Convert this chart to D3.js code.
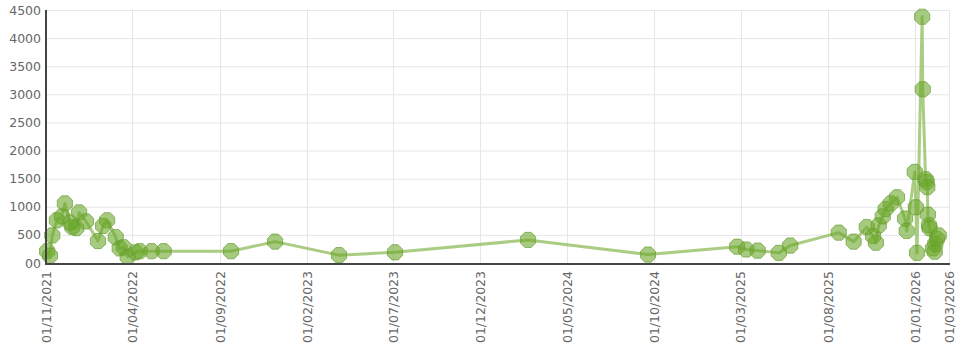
<!DOCTYPE html>
<html>
<head>
<meta charset="utf-8">
<script src="https://cdn.jsdelivr.net/npm/d3@7"></script>
<style>
  body { margin: 0; background: #fff; }
  .tick-label { font-family: "DejaVu Sans", Verdana, sans-serif; font-size: 12.5px; fill: #666; }
</style>
</head>
<body>
<div class="chart-wrapper"></div>
<script>
// dates (dd/mm/yyyy) and values
var dates = ["03/11/2021","08/11/2021","12/11/2021","20/11/2021","29/11/2021","04/12/2021","13/12/2021","17/12/2021","24/12/2021","29/12/2021",
  "10/01/2022","31/01/2022","09/02/2022","16/02/2022","03/03/2022","10/03/2022","17/03/2022","24/03/2022","07/04/2022","14/04/2022",
  "05/05/2022","26/05/2022","21/09/2022","07/12/2022","29/03/2023","05/07/2023","23/02/2024","20/09/2024",
  "23/02/2025","11/03/2025","31/03/2025","07/05/2025","27/05/2025","20/08/2025","15/09/2025","08/10/2025","19/10/2025","24/10/2025",
  "29/10/2025","05/11/2025","10/11/2025","19/11/2025","30/11/2025","14/12/2025","17/12/2025","31/12/2025","02/01/2026","04/01/2026",
  "13/01/2026","14/01/2026","19/01/2026","21/01/2026","22/01/2026","23/01/2026","25/01/2026","26/01/2026","01/02/2026","04/02/2026",
  "05/02/2026","08/02/2026","11/02/2026"];
var values = [210,130,490,760,830,1060,720,640,620,900,
  740,390,660,760,460,260,280,110,190,210,
  210,210,210,380,140,190,410,150,
  290,240,220,180,310,540,380,640,480,360,
  670,830,960,1060,1170,790,570,1620,990,180,
  4380,3090,1490,1440,1350,860,670,620,260,200,
  340,430,490];
var xTickDates = ["01/11/2021","01/04/2022","01/09/2022","01/02/2023","01/07/2023","01/12/2023","01/05/2024","01/10/2024","01/03/2025","01/08/2025","01/01/2026","01/03/2026"];
var yTicks = [0,500,1000,1500,2000,2500,3000,3500,4000,4500];

var parse = d3.timeParse("%d/%m/%Y");
var fmt = d3.timeFormat("%d/%m/%Y");

var points = [];
for (var i = 0; i < dates.length; i++) {
  points.push({date: parse(dates[i]), value: values[i]});
}
var tickDates = xTickDates.map(parse);

var svg = d3.select(".chart-wrapper").append("svg").attr("width", 979).attr("height", 357);

var x = d3.scaleTime().domain([parse("01/11/2021"), parse("01/03/2026")]).range([46, 949]);
var y = d3.scaleLinear().domain([0, 4500]).range([263, 10]);

// grid
svg.append("g").selectAll("line").data(yTicks).enter().append("line")
  .attr("x1", 46).attr("x2", 949)
  .attr("y1", function(d) { return y(d) + 0.5; }).attr("y2", function(d) { return y(d) + 0.5; })
  .attr("stroke", "#e6e6e6").attr("stroke-width", 1);
svg.append("g").selectAll("line").data(tickDates).enter().append("line")
  .attr("x1", function(d) { return Math.round(x(d)) + 0.5; }).attr("x2", function(d) { return Math.round(x(d)) + 0.5; })
  .attr("y1", 10).attr("y2", 263)
  .attr("stroke", "#e6e6e6").attr("stroke-width", 1);

// y axis labels
var yAxis = d3.axisLeft(y).tickValues(yTicks).tickSize(0).tickPadding(5)
  .tickFormat(function(d) { return d === 0 ? "00" : d; });
svg.append("g").attr("transform", "translate(46,0)").call(yAxis)
  .call(function(g) {
    g.select(".domain").remove();
    g.selectAll("text").attr("class", "tick-label").attr("font-family", null).attr("font-size", null);
  });

// x axis labels
var xAxis = d3.axisBottom(x).tickValues(tickDates).tickSize(0).tickFormat(fmt);
svg.append("g").attr("transform", "translate(0,263)").call(xAxis)
  .call(function(g) {
    g.select(".domain").remove();
    g.selectAll("text").attr("class", "tick-label").attr("font-family", null).attr("font-size", null)
      .attr("transform", "rotate(-90)").attr("text-anchor", "end")
      .attr("x", -8).attr("y", 0).attr("dy", "0.35em");
  });

// line
var line = d3.line().x(function(d) { return x(d.date); }).y(function(d) { return y(d.value); });
svg.append("path").datum(points)
  .attr("d", line).attr("fill", "none")
  .attr("stroke", "#8dbb5a").attr("stroke-opacity", 0.75).attr("stroke-width", 3).attr("stroke-linejoin", "round");

// octagon markers
var octagon = function(r) {
  var pts = [];
  for (var k = 0; k < 8; k++) {
    var a = Math.PI / 8 + k * Math.PI / 4;
    pts.push([r * Math.cos(a), r * Math.sin(a)]);
  }
  return "M" + pts.map(function(p) { return p[0].toFixed(2) + "," + p[1].toFixed(2); }).join("L") + "Z";
};
svg.append("g").selectAll("path").data(points).enter().append("path")
  .attr("d", octagon(8.2))
  .attr("transform", function(d) { return "translate(" + x(d.date) + "," + y(d.value) + ")"; })
  .attr("fill", "#6aa62a").attr("fill-opacity", 0.6)
  .attr("stroke", "#6a9e34").attr("stroke-opacity", 0.7).attr("stroke-width", 1);

// axis lines
svg.append("line").attr("x1", 46).attr("x2", 46).attr("y1", 10).attr("y2", 264)
  .attr("stroke", "#444").attr("stroke-width", 2);
svg.append("line").attr("x1", 45).attr("x2", 950).attr("y1", 264).attr("y2", 264)
  .attr("stroke", "#444").attr("stroke-width", 2);
</script>
</body>
</html>
